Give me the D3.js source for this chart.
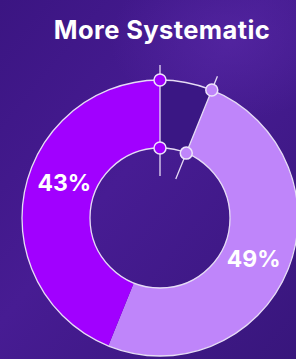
<!DOCTYPE html>
<html>
<head>
<meta charset="utf-8">
<script src="https://cdn.jsdelivr.net/npm/d3@7"></script>
<style>
  html, body { margin: 0; padding: 0; background: #3c1683; }
  svg { display: block; }
</style>
</head>
<body>
<svg id="chart" width="296" height="359"></svg>
<script>
// Data
const title = "More Systematic";
const categories = ["Other", "Agree", "Strongly agree"];
const values = [6, 49, 43];
const labels = ["", "49%", "43%"];
const colors = ["#3a1784", "#bf85fa", "#a100ff"];

const W = 296, H = 359;
const cx = 160, cy = 218, R = 138, r = 70;

const svg = d3.select("#chart");
const defs = svg.append("defs");
const bg = defs.append("linearGradient").attr("id", "bg")
  .attr("x1", "0").attr("y1", "0").attr("x2", "1").attr("y2", "1");
bg.append("stop").attr("offset", "0%").attr("stop-color", "#3b1582");
bg.append("stop").attr("offset", "45%").attr("stop-color", "#471c93");
bg.append("stop").attr("offset", "100%").attr("stop-color", "#38167c");
svg.append("rect").attr("width", W).attr("height", H).attr("fill", "url(#bg)");

const glow = defs.append("radialGradient").attr("id", "glow");
glow.append("stop").attr("offset", "0%").attr("stop-color", "#5a2aa8").attr("stop-opacity", 0.55);
glow.append("stop").attr("offset", "100%").attr("stop-color", "#5a2aa8").attr("stop-opacity", 0);
svg.append("ellipse").attr("cx", 230).attr("cy", 40).attr("rx", 120).attr("ry", 80).attr("fill", "url(#glow)");

svg.append("text")
  .attr("x", 162).attr("y", 39)
  .attr("text-anchor", "middle")
  .attr("fill", "#ffffff")
  .attr("font-family", "Inter, 'Open Sans', sans-serif")
  .attr("font-weight", 700)
  .attr("font-size", 25.5)
  .attr("letter-spacing", 0.4)
  .text(title);

const pie = d3.pie().sort(null).value(d => d)(values);
const arc = d3.arc().innerRadius(r).outerRadius(R);

const g = svg.append("g").attr("transform", `translate(${cx},${cy})`);

g.selectAll("path.slice").data(pie).enter().append("path")
  .attr("class", "slice")
  .attr("d", arc)
  .attr("fill", (d, i) => colors[i])
  .attr("stroke", "none");

g.append("circle").attr("r", R).attr("fill", "none").attr("stroke", "#e6dcf5").attr("stroke-width", 1.3);
g.append("circle").attr("r", r).attr("fill", "none").attr("stroke", "#e6dcf5").attr("stroke-width", 1.3);

const other = pie[0];
const bounds = [
  { a: other.startAngle, color: colors[2] },
  { a: other.endAngle, color: colors[1] }
];
const pt = (a, rad) => [Math.sin(a) * rad, -Math.cos(a) * rad];

bounds.forEach(b => {
  const p1 = pt(b.a, R + 15), p2 = pt(b.a, r - 28);
  g.append("line")
    .attr("x1", p1[0]).attr("y1", p1[1]).attr("x2", p2[0]).attr("y2", p2[1])
    .attr("stroke", "#e6dcf5").attr("stroke-width", 1.3);
});
bounds.forEach(b => {
  [R, r].forEach(rad => {
    const p = pt(b.a, rad);
    g.append("circle").attr("cx", p[0]).attr("cy", p[1]).attr("r", 6)
      .attr("fill", b.color).attr("stroke", "#ede4fa").attr("stroke-width", 1.5);
  });
});

// label placement: mid-angle of slice with a small angular nudge
const labelNudge = [0, 0.025, 0.16];
g.selectAll("text.lbl").data(pie).enter().append("text")
  .attr("class", "lbl")
  .attr("transform", (d, i) => {
    const a = (d.startAngle + d.endAngle) / 2 + labelNudge[i];
    const p = pt(a, 102);
    return `translate(${p})`;
  })
  .attr("text-anchor", "middle")
  .attr("dy", "0.36em")
  .attr("fill", "#ffffff")
  .attr("font-family", "Inter, 'Open Sans', sans-serif")
  .attr("font-weight", 700)
  .attr("font-size", 23)
  .text((d, i) => labels[i]);
</script>
</body>
</html>
